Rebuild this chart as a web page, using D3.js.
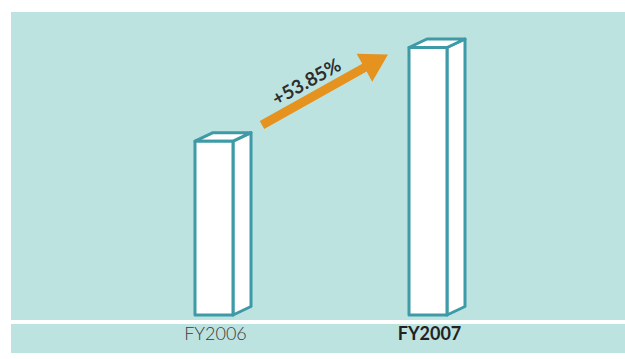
<!DOCTYPE html>
<html>
<head>
<meta charset="utf-8">
<script src="https://cdn.jsdelivr.net/npm/d3@7"></script>
<style>
html,body{margin:0;padding:0;background:#fff;}
svg{display:block;}
</style>
</head>
<body>
<svg id="chart" width="625" height="359"></svg>
<script>
// Data
const categories = ["FY2006", "FY2007"];
const values = [13, 20];
const growthLabel = "+53.85%";
const boldCategory = "FY2007";

const svg = d3.select("#chart");
const W = 625, H = 359;
const bg = "#bde3e1", strokeC = "#3d9aa6", orange = "#e5921f";

// background bands
svg.append("rect").attr("x", 11).attr("y", 12).attr("width", W - 11).attr("height", 308).attr("fill", bg);
svg.append("rect").attr("x", 11).attr("y", 324).attr("width", W - 11).attr("height", 29).attr("fill", bg);

const x = d3.scaleBand().domain(categories).range([107, 535]).padding(0);
const y = d3.scaleLinear().domain([0, 20]).range([315, 47.5]);

const half = 19, dx = 18, dy = 8.5;
const base = y(0);

const g = svg.append("g");
categories.forEach((c, i) => {
  const cx = x(c) + x.bandwidth() / 2;
  const x0 = cx - half, x1 = cx + half, yt = y(values[i]);
  const bar = g.append("g")
    .attr("fill", "#fff").attr("stroke", strokeC).attr("stroke-width", 3)
    .attr("stroke-linejoin", "round");
  bar.append("path").attr("d", `M${x1},${yt}L${x1+dx},${yt-dy}L${x1+dx},${base-dy}L${x1},${base}Z`);
  bar.append("path").attr("d", `M${x0},${yt}L${x0+dx},${yt-dy}L${x1+dx},${yt-dy}L${x1},${yt}Z`);
  bar.append("rect").attr("x", x0).attr("y", yt).attr("width", x1 - x0).attr("height", base - yt);
});

// labels
svg.selectAll("text.cat").data(categories).join("text")
  .attr("class", "cat")
  .attr("x", d => x(d) + x.bandwidth() / 2 + 1.5)
  .attr("y", 340)
  .attr("text-anchor", "middle")
  .attr("font-family", "Lato, 'Open Sans', sans-serif")
  .attr("font-size", 18)
  .attr("font-weight", d => d === boldCategory ? 700 : 300)
  .attr("fill", d => d === boldCategory ? "#222" : "#3a3a3a")
  .text(d => d);

// growth arrow
const tail = [262, 125], tip = [388, 54.5];
const len = Math.hypot(tip[0] - tail[0], tip[1] - tail[1]);
const ang = Math.atan2(tip[1] - tail[1], tip[0] - tail[0]) * 180 / Math.PI;
const sw = 4.5, hl = 27, hw = 16;
svg.append("path")
  .attr("transform", `translate(${tail[0]},${tail[1]}) rotate(${ang})`)
  .attr("d", `M0,${-sw}L${len-hl},${-sw}L${len-hl},${-hw}L${len},0L${len-hl},${hw}L${len-hl},${sw}L0,${sw}Z`)
  .attr("fill", orange);

svg.append("text")
  .attr("transform", `translate(306,81) rotate(${ang})`)
  .attr("text-anchor", "middle")
  .attr("dominant-baseline", "central")
  .attr("font-family", "Lato, 'Open Sans', sans-serif")
  .attr("font-size", 19)
  .attr("font-weight", 700)
  .attr("fill", "#2e2e2e")
  .text(growthLabel);
</script>
</body>
</html>
